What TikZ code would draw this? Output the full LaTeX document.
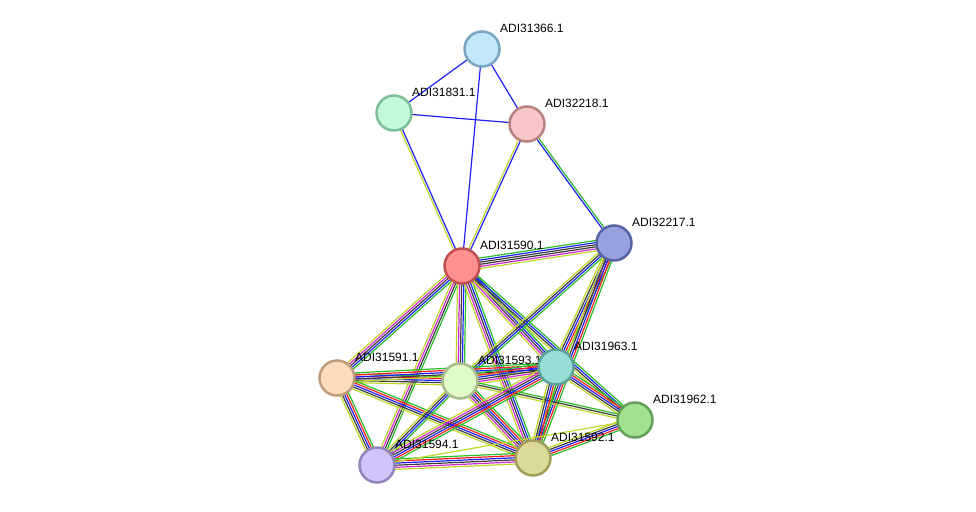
\documentclass[tikz,border=0pt]{standalone}
\usepackage{fontspec}
\setmainfont{Liberation Sans}
\usetikzlibrary{calc}
\pgfdeclarelayer{edgelayer}
\pgfsetlayers{edgelayer,main}
\definecolor{sgreen}{RGB}{40,190,40}
\definecolor{sred}{RGB}{250,30,30}
\definecolor{sblue}{RGB}{30,30,250}
\definecolor{sblack}{RGB}{60,60,60}
\definecolor{smag}{RGB}{210,40,210}
\definecolor{syellow}{RGB}{190,215,40}
\newcommand\edgebundle[3]{%
  \gdef\bundlecount{0}%
  \foreach \ecol in {#3}{\xdef\bundlecount{\the\numexpr\bundlecount+1\relax}}%
  \foreach \ecol [count=\ei] in {#3}{%
    \pgfmathsetmacro\eoff{(\ei-(\bundlecount+1)/2)*2.1}%
    \draw[edgeline,\ecol] ($(#1)!\eoff pt!90:(#2)$) -- ($(#2)!\eoff pt!-90:(#1)$);
  }}
\tikzset{
  edgeline/.style={line width=1.2pt},
  prot/.style={circle, minimum size=35pt, inner sep=0pt, line width=2.5pt},
  plabel/.style={anchor=west, font=\fontsize{12}{13}\selectfont, text=black, inner sep=0pt},
}
\begin{document}
\begin{tikzpicture}[x=1pt,y=-1pt]
\useasboundingbox (0,0) rectangle (976,511);
% nodes with labels
\node[prot, fill={rgb,255:red,193;green,231;blue,251}, draw={rgb,255:red,120;green,165;blue,195}] (n66) at (482,49) {};
\node[plabel] (l66) at (500,28) {ADI31366.1};
\node[prot, fill={rgb,255:red,194;green,250;blue,218}, draw={rgb,255:red,125;green,190;blue,150}] (n31) at (394,113) {};
\node[plabel] (l31) at (412,92) {ADI31831.1};
\node[prot, fill={rgb,255:red,247;green,198;blue,198}, draw={rgb,255:red,185;green,130;blue,130}] (n18) at (527,124) {};
\node[plabel] (l18) at (545,103) {ADI32218.1};
\node[prot, fill={rgb,255:red,152;green,161;blue,222}, draw={rgb,255:red,85;green,98;blue,164}] (n17) at (614,243) {};
\node[plabel] (l17) at (632,222) {ADI32217.1};
\node[prot, fill={rgb,255:red,255;green,144;blue,144}, draw={rgb,255:red,192;green,80;blue,80}] (n90) at (462,266) {};
\node[plabel] (l90) at (480,245) {ADI31590.1};
\node[prot, fill={rgb,255:red,253;green,220;blue,188}, draw={rgb,255:red,190;green,156;blue,124}] (n91) at (337,378) {};
\node[plabel] (l91) at (355,357) {ADI31591.1};
\node[prot, fill={rgb,255:red,226;green,252;blue,200}, draw={rgb,255:red,165;green,190;blue,138}] (n93) at (460,381) {};
\node[plabel] (l93) at (478,360) {ADI31593.1};
\node[prot, fill={rgb,255:red,149;green,223;blue,214}, draw={rgb,255:red,94;green,163;blue,154}] (n63) at (556,367) {};
\node[plabel] (l63) at (574,346) {ADI31963.1};
\node[prot, fill={rgb,255:red,160;green,224;blue,144}, draw={rgb,255:red,100;green,160;blue,87}] (n62) at (635,420) {};
\node[plabel] (l62) at (653,399) {ADI31962.1};
\node[prot, fill={rgb,255:red,210;green,196;blue,248}, draw={rgb,255:red,148;green,132;blue,188}] (n94) at (377,465) {};
\node[plabel] (l94) at (395,444) {ADI31594.1};
\node[prot, fill={rgb,255:red,220;green,218;blue,152}, draw={rgb,255:red,161;green,158;blue,92}] (n92) at (533,458) {};
\node[plabel] (l92) at (551,437) {ADI31592.1};
% edges
\begin{pgfonlayer}{edgelayer}
\edgebundle{n66}{n31}{sblue}
\edgebundle{n66}{n18}{sblue}
\edgebundle{n66}{n90}{sblue}
\edgebundle{n31}{n18}{sblue}
\edgebundle{n31}{n90}{syellow,sblue}
\edgebundle{n18}{n90}{syellow,sblue}
\edgebundle{n18}{n17}{sblue,sgreen}
\edgebundle{n90}{n17}{syellow,smag,sblack,sblack,sblue,sgreen}
\edgebundle{n90}{n91}{syellow,smag,sblack,sblue,sgreen}
\edgebundle{n90}{n94}{syellow,smag,sblack,sgreen}
\edgebundle{n90}{n93}{syellow,smag,sblack,sblue,sgreen}
\edgebundle{n90}{n92}{syellow,smag,sblack,sblue,sgreen}
\edgebundle{n90}{n63}{syellow,smag,sblack,sblue,sgreen}
\edgebundle{n90}{n62}{syellow,sblack,sblue,sgreen}
\edgebundle{n17}{n93}{syellow,sblack,sblue,sgreen}
\edgebundle{n17}{n63}{syellow,sblack,sblue,sred,sgreen}
\edgebundle{n17}{n92}{syellow,sblack,sblue,sred,sgreen}
\edgebundle{n91}{n93}{syellow,sblack,sblue,sred,sgreen}
\edgebundle{n91}{n63}{syellow,sblack,sblue,sred,sgreen}
\edgebundle{n91}{n94}{syellow,sblack,sblue,sred,sgreen}
\edgebundle{n91}{n92}{syellow,sblack,sblue,sred,sgreen}
\edgebundle{n93}{n63}{syellow,smag,sblack,sblue,sred,sgreen}
\edgebundle{n93}{n94}{syellow,sblack,sblue,sgreen}
\edgebundle{n93}{n92}{syellow,smag,sblack,sblue,sred,sgreen}
\edgebundle{n93}{n62}{syellow,sblack,sgreen}
\edgebundle{n63}{n62}{syellow,sblack,sblue,sred,sgreen}
\edgebundle{n63}{n94}{syellow,smag,sblack,sblue,sred,sgreen}
\edgebundle{n63}{n92}{syellow,sblack,sblue,sred,sgreen}
\edgebundle{n62}{n92}{syellow,sblack,sblue,sred,sgreen}
\edgebundle{n94}{n92}{syellow,smag,sblack,sblue,sred,sgreen}
\edgebundle{n94}{n62}{syellow}
\end{pgfonlayer}
\end{tikzpicture}
\end{document}
